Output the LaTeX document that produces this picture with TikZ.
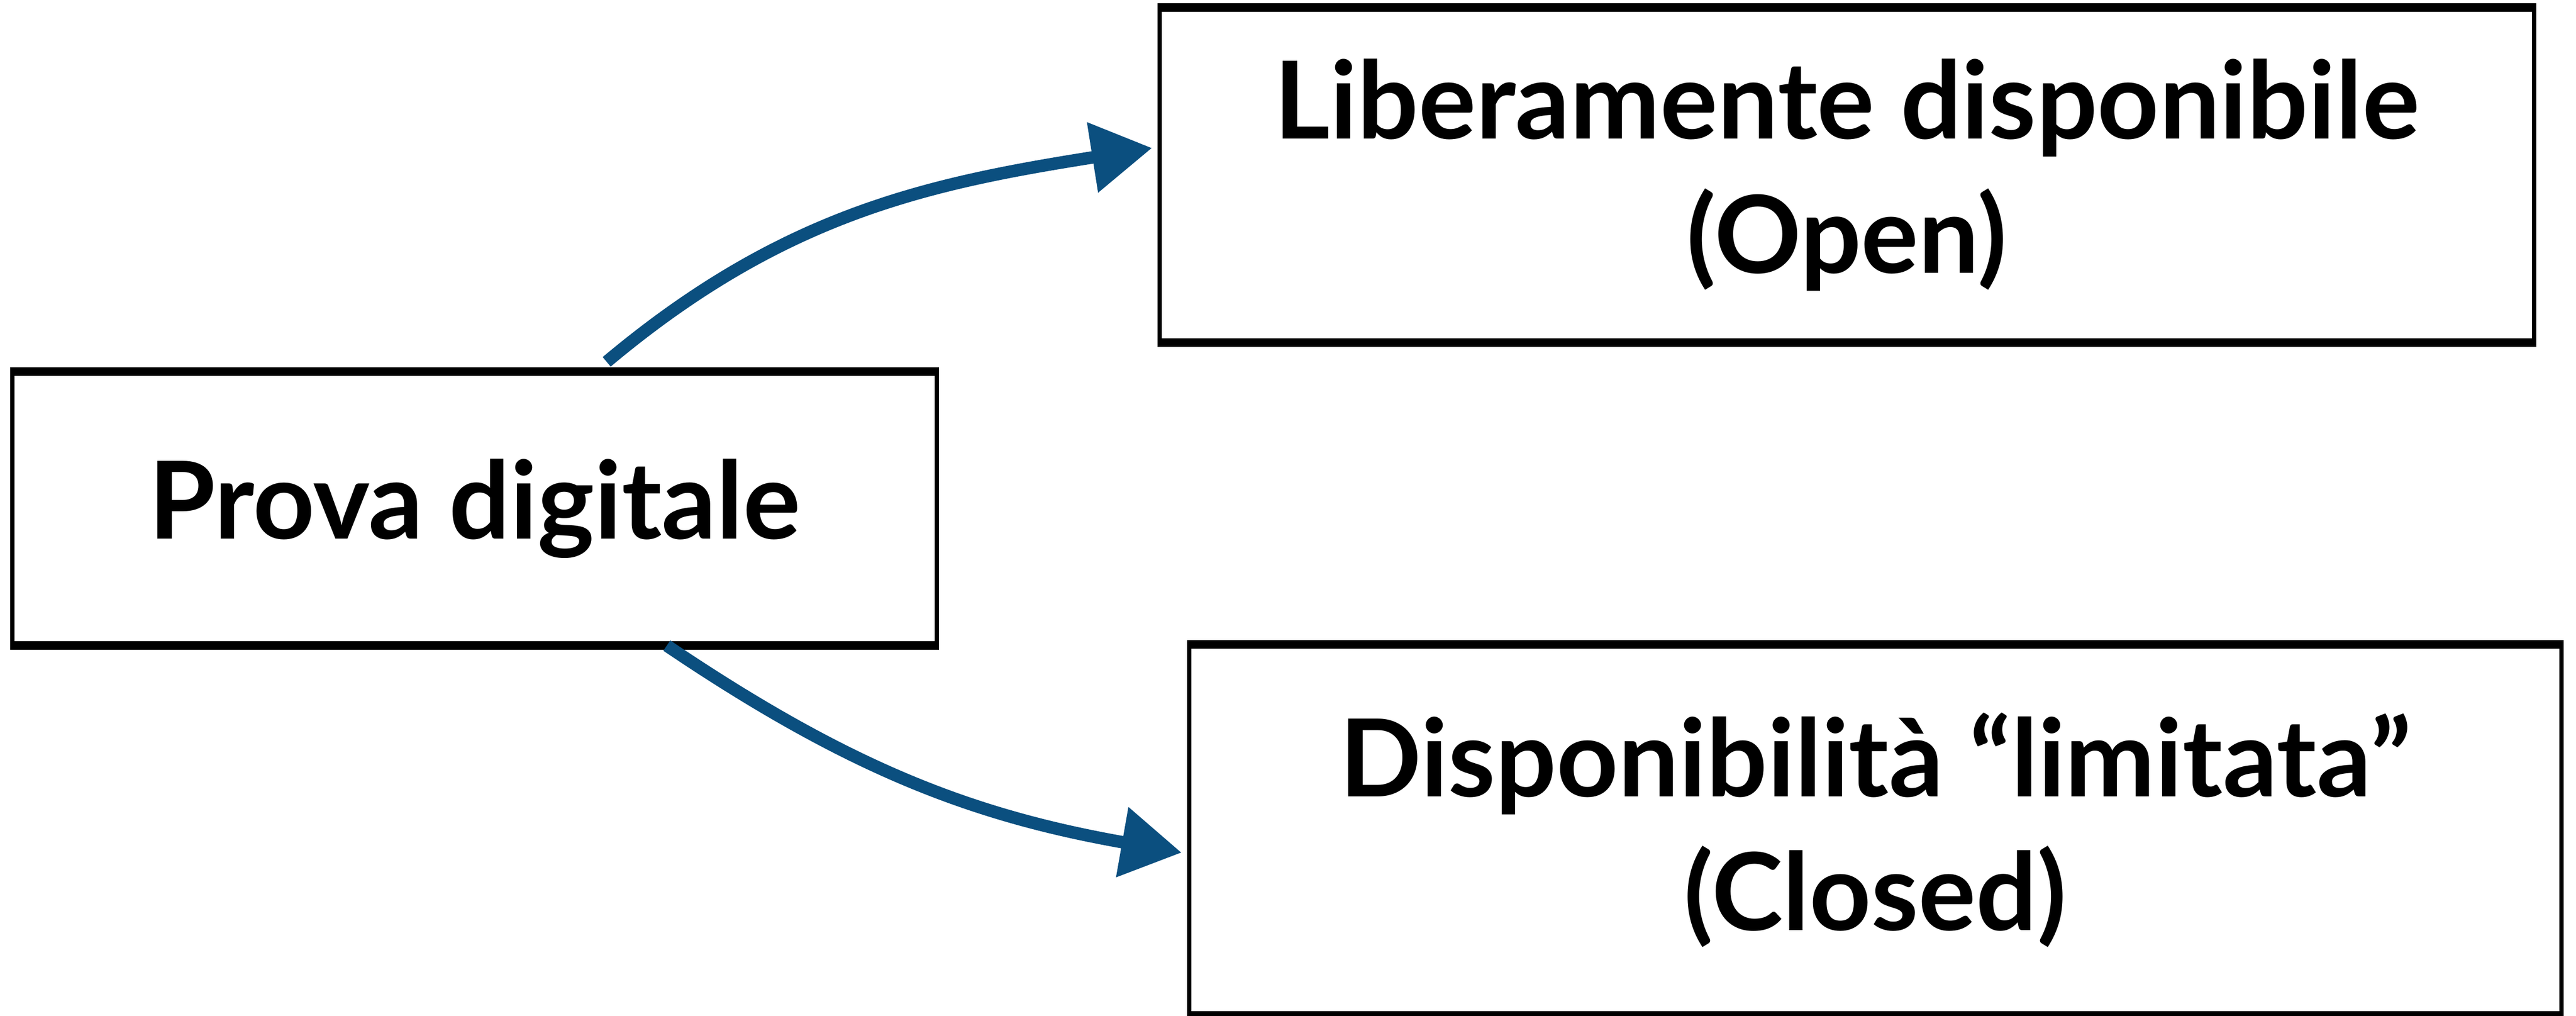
\documentclass[tikz,border=0pt]{standalone}
\usepackage{fontspec}
\setmainfont{Lato}
\usetikzlibrary{arrows.meta}

\definecolor{inkblue}{HTML}{0B4F7F}

\tikzset{
  framebox/.style={draw=black, line width=1.2pt, inner sep=0pt, align=center,
    font=\fontsize{28.5}{35.5}\selectfont\bfseries},
  bluearrow/.style={draw=inkblue, line width=3.3pt, shorten >=0.05cm,
    -{Triangle[length=16pt,width=18pt]}},
}

\begin{document}
\begin{tikzpicture}
    \useasboundingbox (0,0) rectangle (23.99,9.455);
    \node[framebox, minimum width=8.61cm, minimum height=2.51cm] (prova) at (4.42,4.72) {Prova digitale};
    \node[framebox, minimum width=12.8cm, minimum height=3.08cm] (open) at (17.2,7.825) {Liberamente disponibile\\(Open)};
    \node[framebox, minimum width=12.78cm, minimum height=3.415cm] (closed) at (17.465,1.7275) {Disponibilità “limitata”\\(Closed)};
    % heavier strokes on top and bottom
    \foreach \n in {prova,open,closed} {
      \draw[line width=2.2pt] (\n.north west) -- (\n.north east);
      \draw[line width=2.2pt] (\n.south west) -- (\n.south east);
    }
    \draw[bluearrow] ([xshift=1.23cm,yshift=0.09cm]prova.north) to[out=40,in=189] ([yshift=0.26cm]open.west);
    \draw[bluearrow] ([xshift=1.79cm]prova.south) to[out=-34,in=170] ([yshift=-0.22cm]closed.west);
\end{tikzpicture}
\end{document}
